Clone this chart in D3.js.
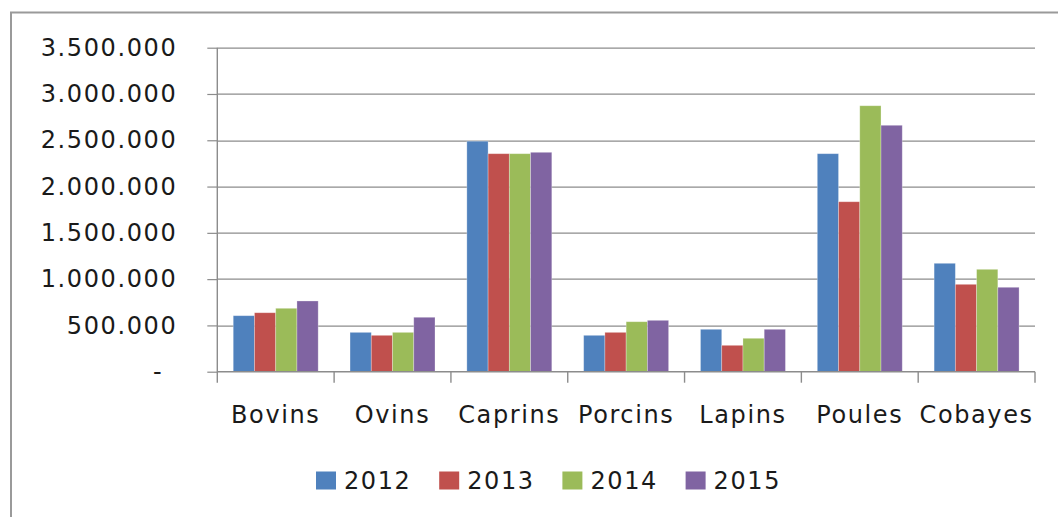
<!DOCTYPE html>
<meta charset="utf-8">
<html>
<script src="https://d3js.org/d3.v7.min.js"></script>
<body style="margin:0;background:#fff;">
<style>
    text {
        font-family: "DejaVu Sans", sans-serif;
        fill: #1a1a1a;
        letter-spacing: 1.6px;
    }
</style>
<div id="chart"></div>

<script>
    // data
    var categories = ["Bovins", "Ovins", "Caprins", "Porcins", "Lapins", "Poules", "Cobayes"];
    var years = ["2012", "2013", "2014", "2015"];
    var values2012 = [605000, 425000, 2490000, 393000, 458000, 2355000, 1171000];
    var values2013 = [637000, 393000, 2355000, 425000, 285000, 1836000, 944000];
    var values2014 = [685000, 425000, 2355000, 540000, 361000, 2873000, 1106000];
    var values2015 = [764000, 588000, 2370000, 555000, 458000, 2662000, 912000];
    var yTicks = [0, 500000, 1000000, 1500000, 2000000, 2500000, 3000000, 3500000];
    var colors = ["#4F81BD", "#C0504D", "#9BBB59", "#8064A2"];

    var series = [values2012, values2013, values2014, values2015];
    var data = categories.map(function(c, i) {
        return {cat: c, vals: years.map(function(y, j) { return {year: y, value: series[j][i]}; })};
    });

    //set margin
    var W = 1058, H = 517;
    var margin = {top: 47.7, right: 23, bottom: 145.3, left: 217.3},
        width = W - margin.left - margin.right,
        height = H - margin.top - margin.bottom;

    var root = d3.select("#chart").append("svg")
        .attr("width", W)
        .attr("height", H);

    //outer frame
    root.append("rect")
        .attr("x", 11).attr("y", 12.5)
        .attr("width", W + 20).attr("height", H + 20)
        .attr("fill", "none")
        .attr("stroke", "#9a9a9a")
        .attr("stroke-width", 2);

    var svg = root.append("g")
        .attr("transform", "translate(" + margin.left + "," + margin.top + ")");

    //scales
    var x0 = d3.scaleBand().domain(categories).range([0, width]).padding(0);
    var bw = x0.bandwidth();
    var gap = bw * 1.5 / 5.5;
    var x1 = d3.scaleBand().domain(years).range([gap / 2, bw - gap / 2]).padding(0);
    var y = d3.scaleLinear().domain([0, 3500000]).range([height, 0]);

    //gridlines
    svg.append("g")
        .selectAll("line")
        .data(yTicks.filter(function(d) { return d > 0; }))
        .enter().append("line")
        .attr("x1", 0).attr("x2", width)
        .attr("y1", function(d) { return Math.round(y(d)) + 0.5; })
        .attr("y2", function(d) { return Math.round(y(d)) + 0.5; })
        .attr("stroke", "#8c8c8c")
        .attr("stroke-width", 1.2);

    //bars
    var groups = svg.selectAll(".grp")
        .data(data)
        .enter().append("g")
        .attr("transform", function(d) { return "translate(" + x0(d.cat) + ",0)"; });

    groups.selectAll("rect")
        .data(function(d) { return d.vals; })
        .enter().append("rect")
        .attr("x", function(d) { return x1(d.year); })
        .attr("width", x1.bandwidth())
        .attr("y", function(d) { return y(d.value); })
        .attr("height", function(d) { return height - y(d.value); })
        .attr("fill", function(d, i) { return colors[i]; })
        .attr("stroke", "#ffffff")
        .attr("stroke-opacity", 0.35)
        .attr("stroke-width", 0.8);

    //y axis
    var fmt = function(d) {
        if (d === 0) return "-";
        return d3.format(",")(d).replace(/,/g, ".");
    };
    var yAxis = svg.append("g")
        .call(d3.axisLeft(y).tickValues(yTicks).tickSize(10).tickPadding(30).tickFormat(fmt));
    yAxis.select(".domain").remove();
    yAxis.selectAll(".tick line").attr("stroke", "#8c8c8c").attr("stroke-width", 1.2);
    yAxis.selectAll("text")
        .style("font-size", "24px")
        .style("font-family", "DejaVu Sans")
        .attr("fill", "#1a1a1a");
    yAxis.selectAll(".tick").filter(function(d) { return d === 0; })
        .select("text").attr("x", -54);

    //axis lines
    svg.append("line")
        .attr("x1", 0).attr("x2", 0)
        .attr("y1", 0).attr("y2", height + 11)
        .attr("stroke", "#8c8c8c").attr("stroke-width", 1.4);
    svg.append("line")
        .attr("x1", 0).attr("x2", width)
        .attr("y1", height).attr("y2", height)
        .attr("stroke", "#8c8c8c").attr("stroke-width", 1.4);

    //x axis ticks at band boundaries
    svg.append("g")
        .selectAll("line")
        .data(categories.slice(1).map(function(c) { return x0(c); }).concat([width]))
        .enter().append("line")
        .attr("x1", function(d) { return d; }).attr("x2", function(d) { return d; })
        .attr("y1", height).attr("y2", height + 11)
        .attr("stroke", "#8c8c8c").attr("stroke-width", 1.4);

    //category labels
    svg.append("g")
        .selectAll("text")
        .data(categories)
        .enter().append("text")
        .attr("x", function(d) { return x0(d) + bw / 2; })
        .attr("y", height + 51)
        .attr("text-anchor", "middle")
        .style("font-size", "24px")
        .text(function(d) { return d; });

    //legend
    var legend = root.append("g").attr("transform", "translate(316,471.5)");
    var item = legend.selectAll(".item")
        .data(years)
        .enter().append("g")
        .attr("transform", function(d, i) { return "translate(" + (i * 123.2) + ",0)"; });
    item.append("rect")
        .attr("width", 20).attr("height", 18)
        .attr("fill", function(d, i) { return colors[i]; });
    item.append("text")
        .attr("x", 28)
        .attr("y", 17)
        .style("font-size", "24px")
        .text(function(d) { return d; });
</script>

</body>
</html>
